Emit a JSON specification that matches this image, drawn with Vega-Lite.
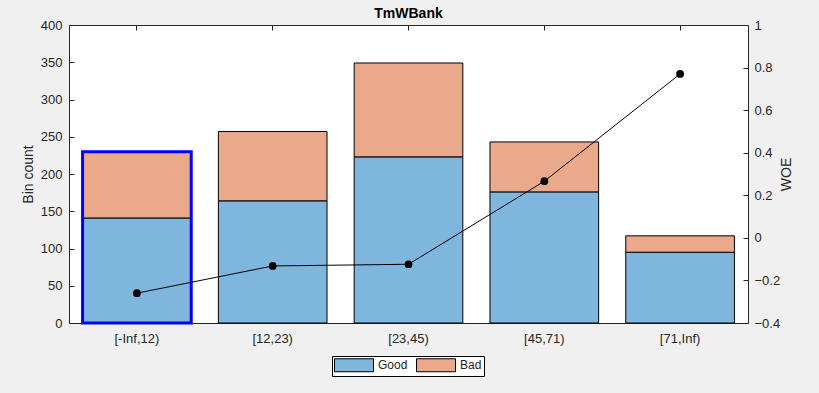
{
  "$schema": "https://vega.github.io/schema/vega-lite/v6.json",
  "width": 679,
  "height": 298,
  "autosize": {"type": "none"},
  "padding": {"left": 69, "top": 25, "right": 71, "bottom": 70},
  "background": "#f0f0f0",
  "title": {"text": "TmWBank", "font": "Liberation Sans", "fontSize": 14, "fontWeight": "bold", "color": "#000000", "offset": -2},
  "config": {
    "view": {"fill": "white", "stroke": "#262626", "strokeWidth": 1},
    "axis": {
      "labelFont": "Liberation Sans", "labelFontSize": 13, "labelColor": "#262626",
      "titleFont": "Liberation Sans", "titleFontSize": 14, "titleFontWeight": "normal", "titleColor": "#262626",
      "domain": false, "grid": false, "tickColor": "#262626", "tickSize": -5, "labelPadding": 12
    },
    "legend": {"labelFont": "Liberation Sans", "labelFontSize": 12, "labelColor": "#262626"}
  },
  "datasets": {
    "bins": [
      {"bin": "[-Inf,12)", "Good": 141, "Bad": 89, "WOE": -0.26},
      {"bin": "[12,23)", "Good": 164, "Bad": 93, "WOE": -0.132},
      {"bin": "[23,45)", "Good": 223, "Bad": 126, "WOE": -0.124},
      {"bin": "[45,71)", "Good": 176, "Bad": 67, "WOE": 0.266},
      {"bin": "[71,Inf)", "Good": 95, "Bad": 22, "WOE": 0.77}
    ]
  },
  "data": {"name": "bins"},
  "layer": [
    {
      "layer": [
        {
          "transform": [{"fold": ["Good", "Bad"], "as": ["Class", "Count"]}],
          "mark": {"type": "bar", "stroke": "#000000", "strokeWidth": 1},
          "encoding": {
            "x": {"field": "bin", "type": "nominal", "sort": null,
                  "scale": {"paddingInner": 0.2, "paddingOuter": 0.1},
                  "axis": {"orient": "bottom", "title": null, "labelAngle": 0, "labelPadding": 14}},
            "y": {"field": "Count", "type": "quantitative", "stack": "zero",
                  "scale": {"domain": [0, 400], "nice": false},
                  "axis": {"orient": "left", "title": "Bin count", "values": [0, 50, 100, 150, 200, 250, 300, 350, 400], "labelPadding": 12, "titlePadding": 5}},
            "color": {"field": "Class", "type": "nominal",
                      "scale": {"domain": ["Good", "Bad"], "range": ["#7eb6dd", "#eba98c"]},
                      "legend": {"orient": "none", "legendX": 263, "legendY": 331, "direction": "horizontal", "title": null,
                                 "fillColor": "white", "strokeColor": "#000000", "padding": 2,
                                 "symbolType": "M-3,-1H3V1H-3Z", "symbolSize": 169, "symbolOffset": 13,
                                 "symbolStrokeColor": "#000000", "symbolStrokeWidth": 1, "symbolOpacity": 1,
                                 "labelOffset": 17, "columnPadding": 6}},
            "order": {"field": "Class", "sort": "descending"}
          }
        },
        {
          "transform": [
            {"filter": "datum.bin === '[-Inf,12)'"},
            {"fold": ["Good", "Bad"], "as": ["Class", "Count"]},
            {"aggregate": [{"op": "sum", "field": "Count", "as": "Total"}], "groupby": ["bin"]}
          ],
          "mark": {"type": "bar", "fillOpacity": 0, "stroke": "#0000ff", "strokeWidth": 3},
          "encoding": {
            "x": {"field": "bin", "type": "nominal", "sort": null,
                  "axis": {"orient": "bottom", "title": null, "labelAngle": 0, "labelPadding": 14}},
            "y": {"field": "Total", "type": "quantitative",
                  "axis": {"orient": "left", "title": "Bin count", "values": [0, 50, 100, 150, 200, 250, 300, 350, 400], "labelPadding": 12, "titlePadding": 5}}
          }
        }
      ]
    },
    {
      "layer": [
        {
          "mark": {"type": "line", "color": "#000000", "strokeWidth": 1},
          "encoding": {
            "x": {"field": "bin", "type": "nominal", "sort": null,
                  "axis": {"orient": "top", "labels": false, "title": null, "labelPadding": 0}},
            "y": {"field": "WOE", "type": "quantitative",
                  "scale": {"domain": [-0.4, 1], "nice": false},
                  "axis": {"orient": "right", "title": "WOE", "titleAngle": 270, "values": [-0.4, -0.2, 0, 0.2, 0.4, 0.6, 0.8, 1], "format": ".1~f", "labelPadding": 11, "titlePadding": 14}}
          }
        },
        {
          "mark": {"type": "point", "filled": true, "color": "#000000", "opacity": 1, "size": 60},
          "encoding": {
            "x": {"field": "bin", "type": "nominal", "sort": null,
                  "axis": {"orient": "top", "labels": false, "title": null, "labelPadding": 0}},
            "y": {"field": "WOE", "type": "quantitative",
                  "axis": {"orient": "right", "title": "WOE", "titleAngle": 270, "values": [-0.4, -0.2, 0, 0.2, 0.4, 0.6, 0.8, 1], "format": ".1~f", "labelPadding": 11, "titlePadding": 14}}
          }
        }
      ]
    }
  ],
  "resolve": {"scale": {"y": "independent"}, "axis": {"x": "independent"}}
}
